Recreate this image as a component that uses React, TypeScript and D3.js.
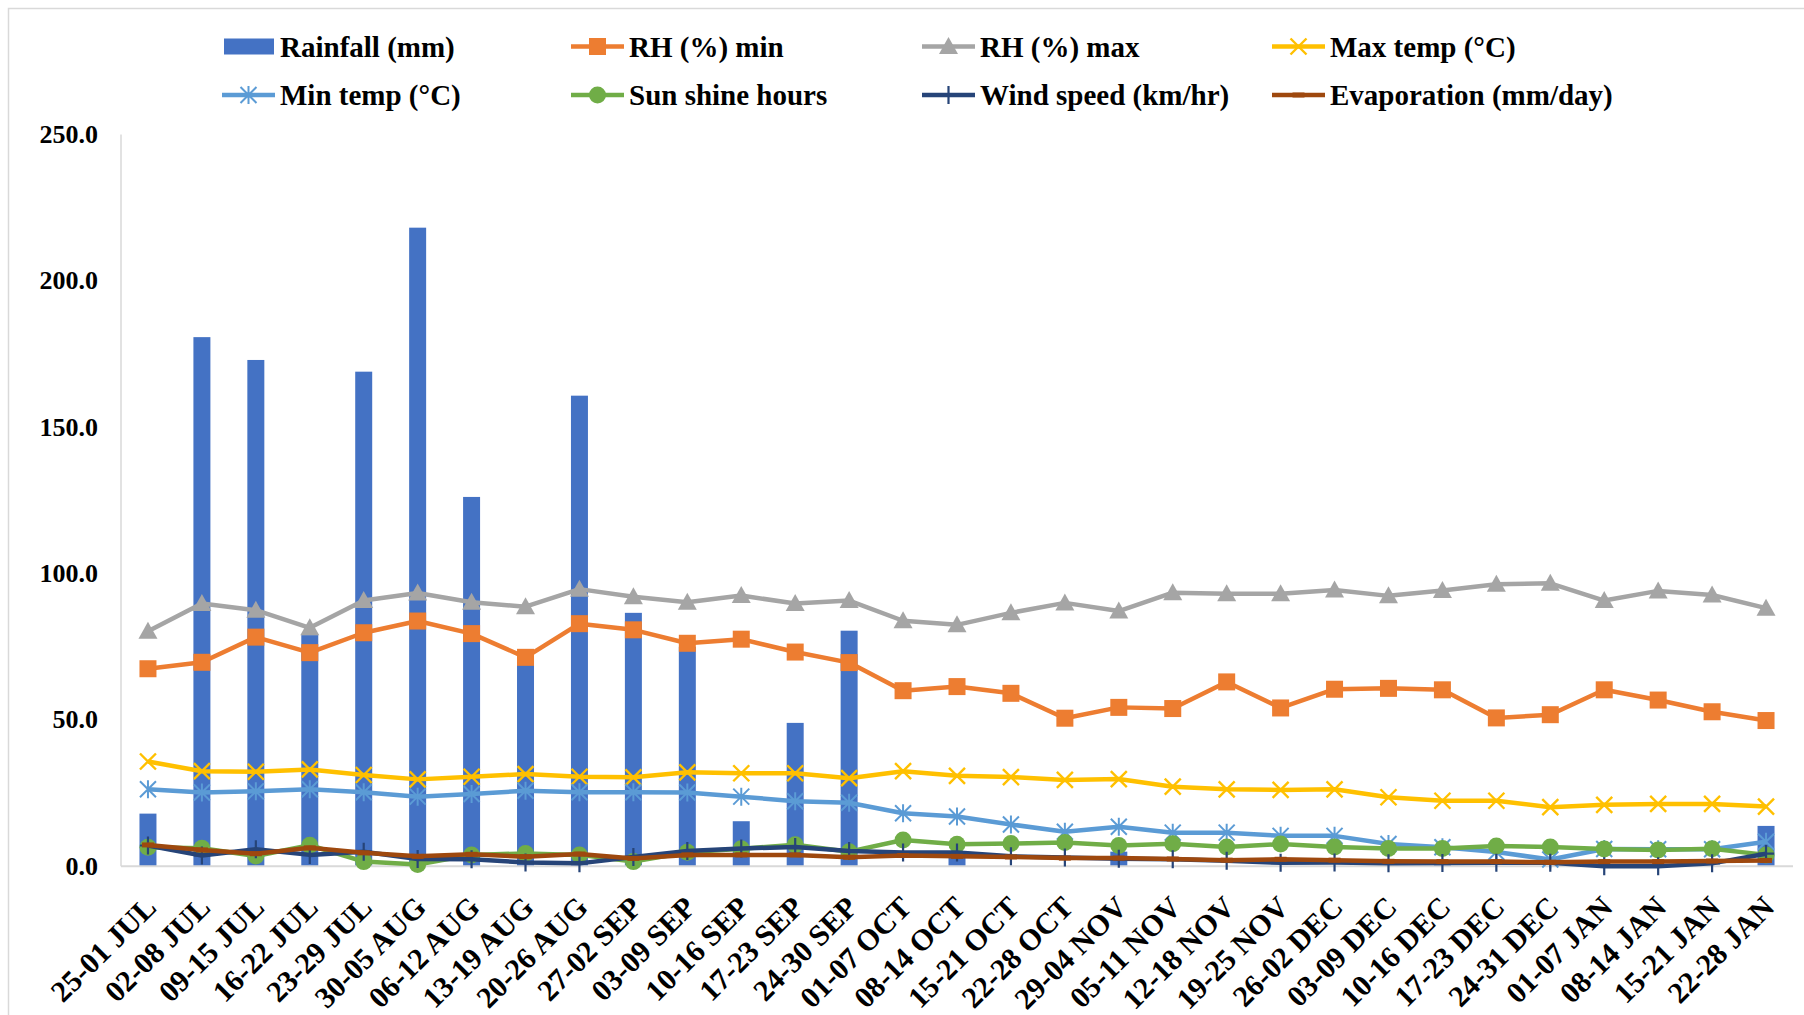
import React from "react";
import * as d3 from "d3";

const categories = [
  "25-01 JUL", "02-08 JUL", "09-15 JUL", "16-22 JUL", "23-29 JUL", "30-05 AUG",
  "06-12 AUG", "13-19 AUG", "20-26 AUG", "27-02 SEP", "03-09 SEP", "10-16 SEP",
  "17-23 SEP", "24-30 SEP", "01-07 OCT", "08-14 OCT", "15-21 OCT", "22-28 OCT",
  "29-04 NOV", "05-11 NOV", "12-18 NOV", "19-25 NOV", "26-02 DEC", "03-09 DEC",
  "10-16 DEC", "17-23 DEC", "24-31 DEC", "01-07 JAN", "08-14 JAN", "15-21 JAN",
  "22-28 JAN",
];

const rainfall = [18.0, 180.8, 173.0, 79.0, 169.0, 218.2, 126.2, 70.0, 160.8, 86.6, 75.0, 15.4, 49.0, 80.5, 0, 5.0, 0, 0, 5.0, 0, 0, 0, 0, 0, 1.2, 0, 0, 0, 0, 0, 13.8];
const rhMin = [67.5, 69.7, 78.3, 73.0, 79.8, 83.8, 79.5, 71.4, 82.9, 80.8, 76.2, 77.6, 73.2, 69.6, 60.0, 61.4, 59.1, 50.6, 54.3, 53.9, 63.0, 54.1, 60.5, 60.8, 60.3, 50.7, 51.8, 60.3, 56.8, 52.8, 49.8];
const rhMax = [80.3, 89.8, 87.5, 81.5, 90.8, 93.4, 90.2, 88.7, 94.7, 92.1, 90.2, 92.5, 89.8, 90.8, 83.9, 82.5, 86.6, 90.0, 87.2, 93.5, 93.1, 93.1, 94.4, 92.4, 94.2, 96.4, 96.7, 90.8, 94.1, 92.7, 88.2];
const maxTemp = [35.8, 32.5, 32.3, 33.1, 31.2, 29.7, 30.6, 31.5, 30.6, 30.4, 32.1, 31.8, 31.8, 30.1, 32.5, 30.9, 30.5, 29.5, 29.8, 27.2, 26.3, 26.1, 26.3, 23.6, 22.4, 22.4, 20.2, 21.0, 21.3, 21.3, 20.4];
const minTemp = [26.3, 25.2, 25.6, 26.3, 25.3, 23.8, 24.7, 25.8, 25.3, 25.3, 25.2, 23.8, 22.2, 21.7, 18.1, 17.0, 14.3, 11.8, 13.5, 11.5, 11.5, 10.4, 10.4, 7.6, 6.5, 4.9, 2.3, 5.9, 5.8, 5.8, 8.4];
const sunshine = [6.5, 6.2, 3.5, 7.2, 1.6, 0.6, 3.9, 4.4, 3.9, 1.6, 4.8, 6.0, 7.4, 5.0, 9.0, 7.5, 7.8, 8.1, 7.1, 7.7, 6.6, 7.6, 6.6, 6.1, 6.1, 6.9, 6.6, 5.9, 5.6, 6.0, 3.9];
const windSpeed = [7.1, 3.7, 5.8, 3.9, 5.0, 2.5, 2.4, 1.3, 1.0, 3.2, 5.2, 6.1, 6.6, 5.2, 4.7, 4.7, 3.4, 3.0, 2.6, 2.4, 1.9, 1.2, 1.3, 1.0, 1.1, 1.2, 1.2, 0.0, 0.0, 1.0, 4.3];
const evaporation = [7.3, 5.6, 4.3, 6.3, 4.6, 3.4, 4.1, 3.3, 4.2, 2.7, 3.9, 3.9, 3.9, 3.1, 3.7, 3.4, 3.2, 2.8, 2.8, 2.5, 2.1, 2.4, 2.1, 1.7, 1.6, 1.6, 1.4, 1.6, 1.6, 1.8, 2.0];

const yTicks = [0, 50, 100, 150, 200, 250];

type MarkerKind = "square" | "triangle" | "x" | "asterisk" | "circle" | "plus" | "dash";

const lineSeries: { name: string; values: number[]; color: string; marker: MarkerKind }[] = [
  { name: "RH (%) min", values: rhMin, color: "#ED7D31", marker: "square" },
  { name: "RH (%) max", values: rhMax, color: "#A5A5A5", marker: "triangle" },
  { name: "Max temp (°C)", values: maxTemp, color: "#FFC000", marker: "x" },
  { name: "Min temp (°C)", values: minTemp, color: "#5B9BD5", marker: "asterisk" },
  { name: "Sun shine hours", values: sunshine, color: "#70AD47", marker: "circle" },
  { name: "Wind speed (km/hr)", values: windSpeed, color: "#264478", marker: "plus" },
  { name: "Evaporation (mm/day)", values: evaporation, color: "#9E480E", marker: "dash" },
];

const BAR_COLOR = "#4472C4";
const FONT = "'Liberation Serif', 'Times New Roman', serif";

const W = 1804;
const H = 1015;
const plot = { left: 121, right: 1793, top: 134.6, bottom: 866.3 };

function Marker({ kind, x, y, color }: { kind: MarkerKind; x: number; y: number; color: string }) {
  const s = 8.5;
  switch (kind) {
    case "square":
      return <rect x={x - s} y={y - s} width={2 * s} height={2 * s} fill={color} />;
    case "triangle":
      return (
        <path
          d={`M${x},${y - 9.5} L${x + 9.5},${y + 7.5} L${x - 9.5},${y + 7.5} Z`}
          fill={color}
        />
      );
    case "circle":
      return <circle cx={x} cy={y} r={8.5} fill={color} />;
    case "x":
      return (
        <path
          d={`M${x - 8},${y - 8} L${x + 8},${y + 8} M${x - 8},${y + 8} L${x + 8},${y - 8}`}
          stroke={color}
          strokeWidth={2.4}
          fill="none"
        />
      );
    case "asterisk":
      return (
        <path
          d={`M${x - 8},${y - 8} L${x + 8},${y + 8} M${x - 8},${y + 8} L${x + 8},${y - 8} M${x},${y - 9} L${x},${y + 9}`}
          stroke={color}
          strokeWidth={2}
          fill="none"
        />
      );
    case "plus":
      return (
        <path
          d={`M${x - 8},${y} L${x + 8},${y} M${x},${y - 9} L${x},${y + 9}`}
          stroke={color}
          strokeWidth={2.2}
          fill="none"
        />
      );
    case "dash":
      return <rect x={x - 6} y={y - 2.5} width={12} height={5} fill={color} />;
  }
}

export default function App() {
  const x = d3.scaleBand<string>().domain(categories).range([plot.left, plot.right]).padding(0);
  const bw = x.bandwidth();
  const cx = (c: string) => (x(c) as number) + bw / 2;
  const y = d3.scaleLinear().domain([0, 250]).range([plot.bottom, plot.top]);
  const barW = bw * 0.315;

  const lineGen = d3
    .line<number>()
    .x((_, i) => cx(categories[i]))
    .y((v) => y(v));

  const legendCols = [222, 571, 922, 1272];
  const legendRows = [46.5, 95];
  const legendItems = [
    { name: "Rainfall (mm)", color: BAR_COLOR, marker: null as MarkerKind | null },
    ...lineSeries.map((s) => ({ name: s.name, color: s.color, marker: s.marker as MarkerKind | null })),
  ];

  return (
    <>
      <style>{`body{margin:0;overflow:hidden;background:#fff}`}</style>
      <svg width={W} height={H} style={{ display: "block" }} fontFamily={FONT}>
        <rect x={0} y={0} width={W} height={H} fill="#fff" />
        <rect x={8.5} y={8.5} width={W + 20} height={H + 20} fill="none" stroke="#D9D9D9" strokeWidth={1.5} />

        {/* value axis */}
        <line x1={plot.left} x2={plot.left} y1={plot.top} y2={plot.bottom} stroke="#D9D9D9" strokeWidth={1.5} />
        {yTicks.map((t) => (
          <text
            key={t}
            x={98}
            y={y(t)}
            textAnchor="end"
            dominantBaseline="central"
            fontSize={26}
            fontWeight="bold"
            fill="#000"
          >
            {t.toFixed(1)}
          </text>
        ))}

        {/* rainfall bars */}
        {rainfall.map((v, i) =>
          v > 0 ? (
            <rect
              key={categories[i]}
              x={cx(categories[i]) - barW / 2}
              y={y(v)}
              width={barW}
              height={y(0) - y(v)}
              fill={BAR_COLOR}
            />
          ) : null
        )}

        <line x1={plot.left} x2={plot.right} y1={plot.bottom} y2={plot.bottom} stroke="#D9D9D9" strokeWidth={2} />

        {/* line series */}
        {lineSeries.map((s) => (
          <g key={s.name}>
            <path d={lineGen(s.values) || ""} fill="none" stroke={s.color} strokeWidth={4.5} strokeLinejoin="round" />
            {s.values.map((v, i) => (
              <Marker key={i} kind={s.marker} x={cx(categories[i])} y={y(v)} color={s.color} />
            ))}
          </g>
        ))}

        {/* category labels */}
        {categories.map((c) => (
          <text
            key={c}
            transform={`translate(${cx(c) + 10},${909}) rotate(-45)`}
            textAnchor="end"
            fontSize={30}
            fontWeight="bold"
            fill="#000"
          >
            {c}
          </text>
        ))}

        {/* legend */}
        {legendItems.map((it, k) => {
          const lx = legendCols[k % 4];
          const ly = legendRows[Math.floor(k / 4)];
          return (
            <g key={it.name}>
              {it.marker === null ? (
                <rect x={lx + 2} y={ly - 8} width={50} height={16} fill={it.color} />
              ) : (
                <>
                  <line x1={lx} x2={lx + 53} y1={ly} y2={ly} stroke={it.color} strokeWidth={4.5} />
                  <Marker kind={it.marker} x={lx + 26.5} y={ly} color={it.color} />
                </>
              )}
              <text x={lx + 58} y={ly} dominantBaseline="central" fontSize={29} fontWeight="bold" fill="#000">
                {it.name}
              </text>
            </g>
          );
        })}
      </svg>
    </>
  );
}
